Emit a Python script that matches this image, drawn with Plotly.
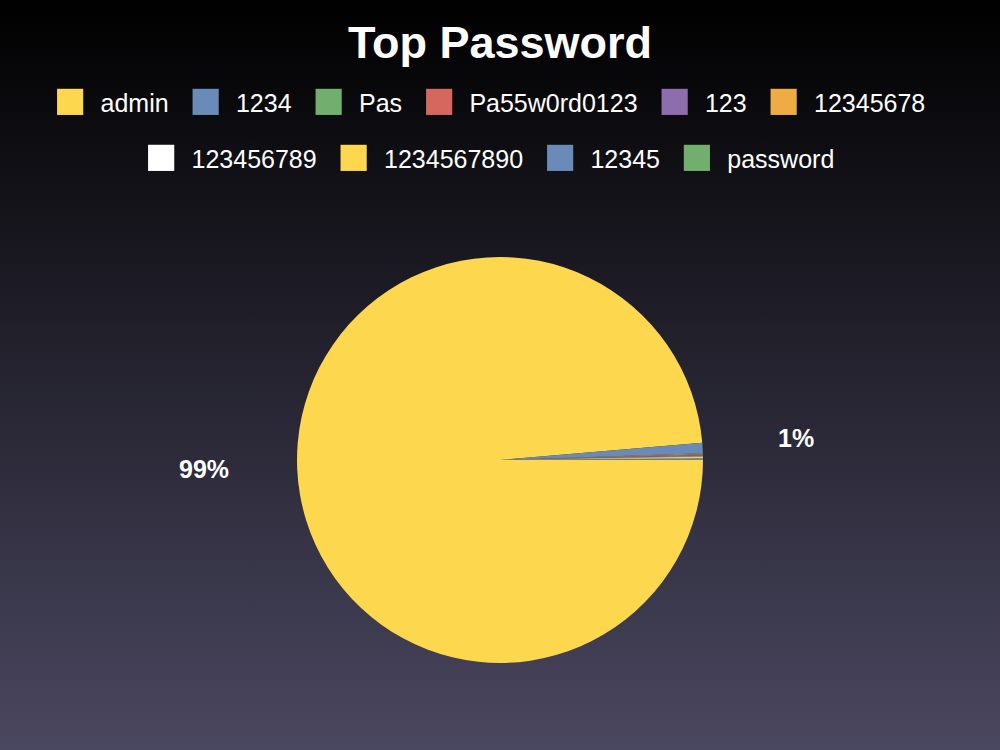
import math
import base64
import plotly.graph_objects as go

# ---- data ----
labels = ["admin", "1234", "Pas", "Pa55w0rd0123", "123", "12345678",
          "123456789", "1234567890", "12345", "password"]
counts = [13800, 115, 12, 11, 10, 9, 9, 8, 8, 8]
colors = ["#FDD84E", "#6A8AB8", "#72AE6D", "#D4675E", "#8E6DAF", "#F0AC44",
          "#FFFFFF", "#FDD84E", "#6A8AB8", "#72AE6D"]
legend_rows = [6, 4]  # number of legend entries per row
title_text = "Top Password"

FONT = "Liberation Sans, Arial, Helvetica, sans-serif"
W, H = 1000, 750
cx, cy, R = 500, 460, 203  # pie centre/radius in pixels

fig = go.Figure(go.Pie(
    labels=labels, values=counts, sort=False, direction="clockwise", rotation=90,
    marker=dict(colors=colors, line=dict(width=0)),
    textinfo="none", hoverinfo="label+percent", showlegend=False,
    domain=dict(x=[(cx - R) / W, (cx + R) / W], y=[1 - (cy + R) / H, 1 - (cy - R) / H]),
))

# percentage labels outside the pie, placed at each slice's mid angle
total = sum(counts)
cum = 0.0
annotations = []
for lab, v in zip(labels, counts):
    frac = v / total
    mid = -(cum + frac / 2) * 2 * math.pi
    cum += frac
    pct = round(frac * 100)
    if pct < 1:
        continue
    d = 1.46 * R
    x = cx + d * math.cos(mid)
    y = cy - d * math.sin(mid)
    annotations.append(dict(x=x / W, y=1 - y / H, xref="paper", yref="paper",
                            text=f"<b>{pct}%</b>", showarrow=False, yshift=4,
                            font=dict(family=FONT, size=25, color="white"),
                            xanchor="center", yanchor="middle"))

# legend rows (large coloured squares + labels)
row_y = [99, 155]
start = 0
for r, n in enumerate(legend_rows):
    parts = []
    for lab, col in zip(labels[start:start + n], colors[start:start + n]):
        parts.append(f"<span style='color:{col};font-size:54px;baseline-shift:-0.12em'>■</span>  {lab}   ")
    start += n
    annotations.append(dict(x=0.5, y=1 - row_y[r] / H, xref="paper", yref="paper",
                            text="".join(parts), showarrow=False,
                            font=dict(family=FONT, size=25, color="white"),
                            xanchor="center", yanchor="middle"))

# background gradient image
svg = ("<svg xmlns='http://www.w3.org/2000/svg' width='100' height='100' preserveAspectRatio='none'>"
       "<defs><linearGradient id='g' x1='0' y1='0' x2='0' y2='1'>"
       "<stop offset='0' stop-color='#000000'/><stop offset='1' stop-color='#4A4760'/>"
       "</linearGradient></defs><rect width='100' height='100' fill='url(#g)'/></svg>")
src = "data:image/svg+xml;base64," + base64.b64encode(svg.encode()).decode()

fig.update_layout(
    width=W, height=H,
    margin=dict(l=0, r=0, t=0, b=0),
    paper_bgcolor="#000000", plot_bgcolor="#000000",
    title=dict(text=f"<b>{title_text}</b>", x=0.5, xanchor="center",
               y=1 - 42 / H, yanchor="middle", yref="container",
               font=dict(family=FONT, size=45, color="white")),
    annotations=annotations,
    images=[dict(source=src, xref="paper", yref="paper", x=0, y=1, sizex=1, sizey=1,
                 sizing="stretch", layer="below", xanchor="left", yanchor="top")],
)

fig.write_html("out.html")
